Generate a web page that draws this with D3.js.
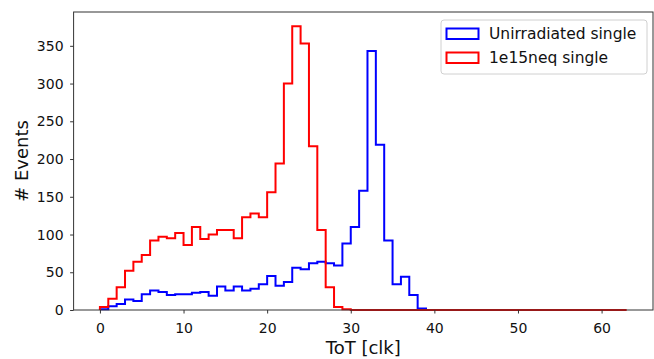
<!DOCTYPE html>
<html>
<head>
<meta charset="utf-8">
<script src="https://cdn.jsdelivr.net/npm/d3@7"></script>
<style>
  body { margin: 0; background: #fff; }
  svg { font-family: "DejaVu Sans", sans-serif; }
</style>
</head>
<body>
<svg width="654" height="359"></svg>
<script>
'use strict';

// histogram counts per 1-clk bin
var unirradiated = [1, 5, 8, 14, 12, 21, 26, 24, 20, 21, 21, 23, 24, 19, 31, 26, 31, 26, 28, 34,
    45, 32, 37, 56, 54, 62, 64, 62, 59, 88, 110, 158, 343, 219, 92, 34, 44, 20, 2];
var irradiated = [4, 15, 30, 52, 64, 73, 92, 97, 95, 102, 86, 110, 94, 100, 106, 106, 95, 123, 128, 123,
    156, 194, 300, 376, 353, 217, 106, 30, 4, 1,
    0, 0, 0, 0, 0, 0, 0, 0, 0, 0, 0, 0, 0, 0, 0, 0, 0, 0, 0, 0,
    0, 0, 0, 0, 0, 0, 0, 0, 0, 0, 0, 0, 0];
var seriesNames = ['Unirradiated single', '1e15neq single'];
var seriesColors = ['#0000ff', '#ff0000'];
var xTicks = [0, 10, 20, 30, 40, 50, 60];
var yTicks = [0, 50, 100, 150, 200, 250, 300, 350];

var margin = {top: 12, right: 1, bottom: 49, left: 73.6};
var width = 654 - margin.left - margin.right;
var height = 359 - margin.top - margin.bottom;

var svg = d3.select('svg');
var g = svg.append('g')
    .attr('transform', 'translate(' + margin.left + ',' + margin.top + ')');

// matplotlib style 5% padding on x, 5% headroom on y
var xMax = irradiated.length;
var x = d3.scaleLinear().domain([-0.05 * xMax, xMax * 1.05]).range([0, width]);
var y = d3.scaleLinear().domain([0, d3.max(irradiated) * 1.05]).range([height, 0]);

// turn bin counts into a step outline
function stepPoints(counts) {
    var pts = [[0, 0]];
    counts.forEach(function(v, i) {
        pts.push([i, v]);
        pts.push([i + 1, v]);
    });
    pts.push([counts.length, 0]);
    return pts;
}

var line = d3.line()
    .x(function(d) { return x(d[0]); })
    .y(function(d) { return y(d[1]); });

[unirradiated, irradiated].forEach(function(counts, i) {
    g.append('path')
        .attr('d', line(stepPoints(counts)))
        .attr('fill', 'none')
        .attr('stroke', seriesColors[i])
        .attr('stroke-width', 2)
        .attr('stroke-linejoin', 'miter');
});

// axes
var xAxis = g.append('g')
    .attr('transform', 'translate(0,' + height + ')')
    .call(d3.axisBottom(x).tickValues(xTicks).tickSize(3.5).tickPadding(9.5).tickSizeOuter(0));
var yAxis = g.append('g')
    .call(d3.axisLeft(y).tickValues(yTicks).tickSize(3.5).tickPadding(6.5).tickSizeOuter(0));

[xAxis, yAxis].forEach(function(a) {
    a.select('.domain').remove();
    a.selectAll('line').attr('stroke', '#333').attr('stroke-width', 1);
    a.selectAll('text').attr('font-size', 14).attr('fill', '#111')
        .attr('font-family', '"DejaVu Sans", sans-serif');
});

// frame
g.append('rect')
    .attr('width', width)
    .attr('height', height)
    .attr('fill', 'none')
    .attr('stroke', '#333')
    .attr('stroke-width', 1);

// labels
svg.append('text')
    .attr('x', margin.left + width / 2)
    .attr('y', 354)
    .attr('text-anchor', 'middle')
    .attr('font-size', 18)
    .attr('fill', '#111')
    .text('ToT [clk]');

svg.append('text')
    .attr('transform', 'translate(28,' + (margin.top + height / 2) + ') rotate(-90)')
    .attr('text-anchor', 'middle')
    .attr('font-size', 18)
    .attr('fill', '#111')
    .text('# Events');

// legend
var legend = svg.append('g').attr('transform', 'translate(441,20)');
legend.append('rect')
    .attr('width', 206)
    .attr('height', 54)
    .attr('rx', 3)
    .attr('fill', '#fff')
    .attr('fill-opacity', 0.8)
    .attr('stroke', '#d0d0d0');

seriesNames.forEach(function(name, i) {
    legend.append('rect')
        .attr('x', 5.5)
        .attr('y', 8.5 + i * 24)
        .attr('width', 32)
        .attr('height', 10.5)
        .attr('fill', 'none')
        .attr('stroke', seriesColors[i])
        .attr('stroke-width', 2);
    legend.append('text')
        .attr('x', 48)
        .attr('y', 18.5 + i * 24)
        .attr('font-size', 15.5)
        .attr('fill', '#111')
        .text(name);
});
</script>
</body>
</html>
